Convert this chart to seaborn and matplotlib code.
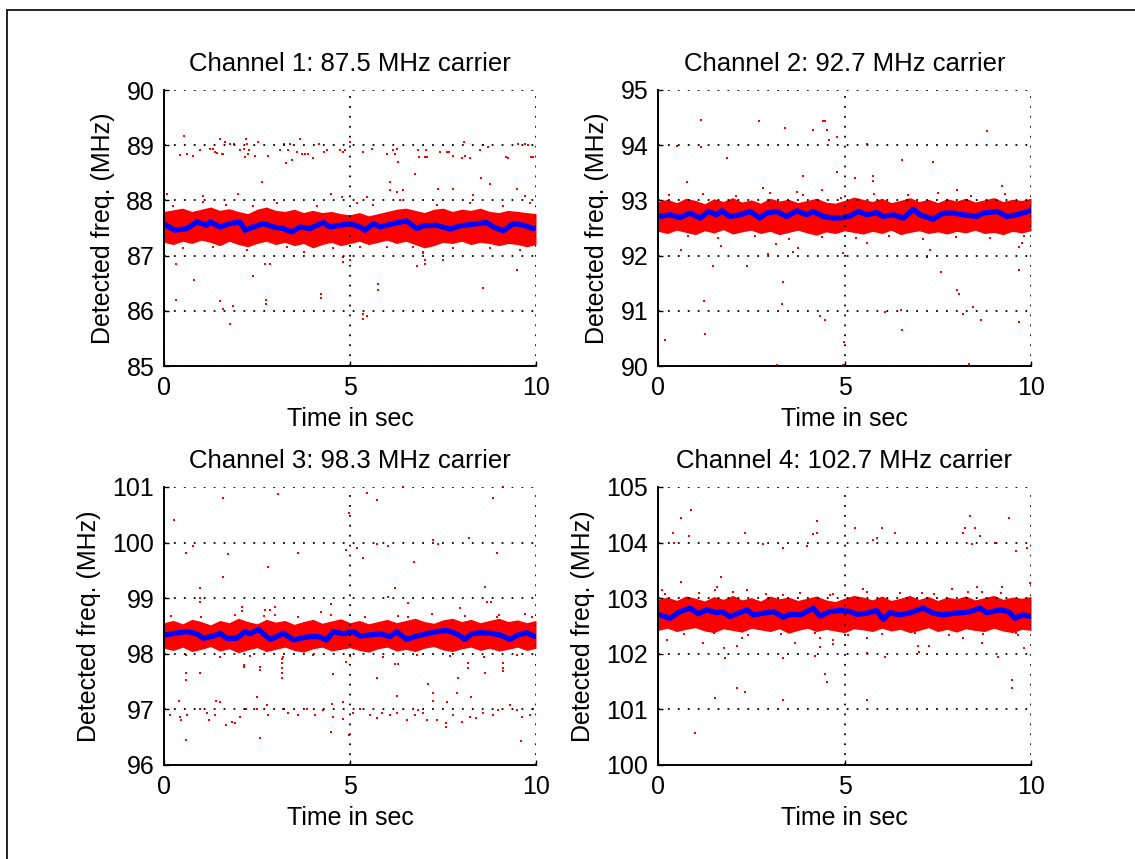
import matplotlib
matplotlib.use("Agg")
import matplotlib.pyplot as plt
import pandas as pd
import seaborn as sns

sns.set_style("white")
plt.rcParams.update({
    "font.family": ["Liberation Sans", "DejaVu Sans"],
    "font.size": 18,
    "text.color": "black",
    "axes.labelcolor": "black",
    "xtick.color": "black",
    "ytick.color": "black",
})

band_t = [0.0, 0.25, 0.5, 0.75, 1.0, 1.25, 1.5, 1.75, 2.0, 2.25, 2.5, 2.75, 3.0, 3.25,
          3.5, 3.75, 4.0, 4.25, 4.5, 4.75, 5.0, 5.25, 5.5, 5.75, 6.0, 6.25, 6.5, 6.75,
          7.0, 7.25, 7.5, 7.75, 8.0, 8.25, 8.5, 8.75, 9.0, 9.25, 9.5, 9.75, 10.0]

# ---- Channel 1: 87.5 MHz ----
ch1_band_hi = [87.80, 87.83, 87.86, 87.80, 87.84, 87.88, 87.82, 87.85, 87.80, 87.76, 87.84,
               87.88, 87.82, 87.80, 87.84, 87.78, 87.82, 87.78, 87.80, 87.76, 87.74, 87.78,
               87.72, 87.76, 87.80, 87.84, 87.86, 87.82, 87.78, 87.84, 87.86, 87.80, 87.84,
               87.82, 87.86, 87.80, 87.78, 87.82, 87.80, 87.78, 87.76]
ch1_band_lo = [87.24, 87.20, 87.26, 87.22, 87.28, 87.24, 87.18, 87.26, 87.20, 87.16, 87.22,
               87.26, 87.20, 87.24, 87.18, 87.22, 87.14, 87.20, 87.24, 87.18, 87.22, 87.26,
               87.20, 87.24, 87.28, 87.22, 87.26, 87.20, 87.14, 87.18, 87.24, 87.22, 87.26,
               87.20, 87.24, 87.22, 87.18, 87.22, 87.20, 87.16, 87.20]
ch1_line_t = [0.0, 0.3, 0.61, 0.88, 1.15, 1.24, 1.51, 1.77, 2.04, 2.18, 2.40, 2.67, 2.94,
              3.21, 3.43, 3.66, 3.92, 4.28, 4.46, 4.73, 5.00, 5.27, 5.40, 5.63, 5.81, 6.16,
              6.52, 6.79, 6.97, 7.33, 7.69, 7.96, 8.32, 8.67, 8.85, 9.12, 9.39, 9.66, 9.93]
ch1_line_f = [87.57, 87.46, 87.49, 87.61, 87.55, 87.61, 87.52, 87.58, 87.61, 87.46, 87.52,
              87.58, 87.52, 87.49, 87.43, 87.52, 87.49, 87.60, 87.52, 87.55, 87.58, 87.52,
              87.46, 87.58, 87.52, 87.58, 87.63, 87.49, 87.54, 87.55, 87.48, 87.54, 87.57,
              87.60, 87.52, 87.45, 87.58, 87.55, 87.49]
ch1_pts_t = [0.54, 0.61, 0.43, 0.77, 0.97, 1.24, 1.33, 1.37, 1.42, 1.51, 1.55, 1.59, 1.64,
             1.77, 1.88, 2.04, 2.15, 2.20, 2.24, 2.18, 2.27, 2.29, 2.45, 2.54, 2.80, 3.12,
             3.23, 3.28, 3.34, 3.39, 3.43, 3.57, 3.66, 3.70, 3.79, 3.88, 4.00, 4.18, 4.30,
             4.37, 4.73, 4.80, 4.87, 5.00, 5.36, 5.58, 5.99, 6.16, 6.21, 6.25, 6.30, 6.84,
             6.86, 7.03, 7.02, 7.06, 7.42, 7.60, 7.67, 7.76, 8.06, 8.00, 8.09, 8.23, 8.49,
             8.57, 8.72, 9.19, 9.26, 9.52, 9.70, 9.79, 9.86, 9.91,
             2.63, 6.08, 6.08, 6.25, 6.42, 6.75, 7.37, 7.76, 8.30, 8.51, 8.75, 9.48, 9.70,
             4.48, 4.78, 5.45, 1.99, 1.06, 0.09, 5.18,
             0.32, 0.81, 0.32, 1.51, 1.58, 1.85, 1.77, 2.38, 2.72, 2.85, 2.74, 2.74, 4.21,
             4.21, 4.80, 4.80, 5.00, 5.36, 5.45, 5.34, 5.76, 5.76, 6.79, 7.02, 7.02, 7.49,
             8.57, 9.48, 6.97,
             0.25, 0.52, 1.06, 1.33, 1.68, 2.22, 2.40, 3.03, 3.30, 3.75, 4.10, 4.55, 5.27,
             5.63, 5.99, 6.34, 6.70, 6.97, 7.33, 7.78, 8.23, 8.76, 9.12, 9.57, 9.84]
ch1_pts_f = [89.17, 88.84, 88.82, 88.80, 88.91, 88.93, 88.93, 88.88, 88.86, 89.12, 88.84,
             88.84, 89.05, 89.02, 89.02, 88.91, 88.93, 89.12, 89.02, 88.78, 88.84, 88.91,
             88.80, 89.06, 88.80, 88.91, 89.02, 88.67, 88.91, 89.02, 88.73, 88.87, 89.12,
             88.84, 88.84, 88.84, 88.77, 89.02, 88.88, 88.91, 88.91, 88.88, 88.91, 89.05,
             88.88, 88.94, 88.84, 88.91, 88.84, 88.93, 88.70, 88.91, 88.78, 88.91, 88.78,
             88.78, 88.88, 88.88, 88.88, 88.80, 89.06, 88.76, 88.80, 88.76, 88.91, 89.00,
             88.97, 88.78, 88.76, 89.02, 89.02, 89.00, 88.78, 88.78,
             88.34, 88.34, 88.19, 88.16, 88.19, 88.48, 88.20, 88.20, 88.10, 88.40, 88.30,
             88.20, 88.08, 88.12, 88.06, 88.06, 88.12, 88.08, 88.12, 87.95,
             86.85, 86.56, 86.20, 86.17, 86.04, 86.09, 85.76, 86.63, 86.85, 86.85, 86.20,
             86.12, 86.30, 86.23, 86.98, 86.89, 86.92, 85.94, 85.91, 85.85, 86.49, 86.38,
             86.81, 86.92, 86.85, 86.92, 86.41, 86.74, 87.04,
             87.89, 87.13, 87.98, 87.16, 87.92, 87.10, 87.89, 87.95, 87.16, 87.07, 87.89,
             87.13, 87.16, 87.92, 87.16, 88.01, 87.16, 87.07, 87.92, 87.13, 87.95, 87.13,
             87.89, 87.10, 87.95]

# ---- Channel 2: 92.7 MHz ----
ch2_band_hi = [92.98, 93.02, 92.96, 93.04, 93.00, 92.94, 93.03, 92.98, 93.05, 92.97, 93.01,
               92.95, 93.04, 92.99, 93.02, 92.96, 93.00, 93.04, 92.97, 92.95, 93.00, 93.06,
               93.02, 92.98, 93.04, 92.96, 93.00, 93.05, 92.98, 93.02, 92.96, 93.03, 92.99,
               93.04, 92.97, 93.01, 93.05, 92.98, 93.02, 93.00, 93.04]
ch2_band_lo = [92.44, 92.40, 92.46, 92.42, 92.38, 92.45, 92.41, 92.47, 92.39, 92.43, 92.46,
               92.40, 92.44, 92.38, 92.42, 92.46, 92.41, 92.37, 92.43, 92.40, 92.45, 92.42,
               92.39, 92.44, 92.40, 92.46, 92.38, 92.42, 92.45, 92.40, 92.43, 92.39, 92.44,
               92.41, 92.46, 92.40, 92.42, 92.38, 92.44, 92.41, 92.45]
ch2_line_t = [0.05, 0.32, 0.59, 0.86, 1.13, 1.35, 1.57, 1.71, 1.93, 2.20, 2.47, 2.73, 2.91,
              3.18, 3.45, 3.72, 3.99, 4.16, 4.43, 4.70, 4.97, 5.15, 5.37, 5.59, 5.86, 6.04,
              6.31, 6.58, 6.85, 7.02, 7.38, 7.65, 7.92, 8.19, 8.54, 8.72, 9.08, 9.35, 9.62,
              9.97]
ch2_line_f = [92.71, 92.74, 92.69, 92.77, 92.68, 92.80, 92.74, 92.81, 92.71, 92.74, 92.80,
              92.68, 92.77, 92.80, 92.71, 92.81, 92.74, 92.80, 92.71, 92.68, 92.69, 92.72,
              92.80, 92.74, 92.78, 92.71, 92.74, 92.68, 92.84, 92.74, 92.66, 92.77, 92.77,
              92.74, 92.71, 92.77, 92.80, 92.71, 92.74, 92.81]
ch2_pts_t = [1.14, 2.72, 3.40, 4.16, 4.43, 4.48, 4.52, 4.59, 4.81, 0.50, 1.14, 5.61, 8.83,
             1.86, 6.53, 7.38, 4.81, 3.90, 0.79, 2.82, 5.28, 5.76, 5.76, 9.21, 4.39, 8.01,
             3.72,
             0.61, 1.48, 2.38, 3.36, 3.32, 1.22, 1.26, 0.19, 4.33, 4.48, 4.99, 3.18, 4.95,
             6.09, 6.51, 6.53, 7.60, 8.02, 8.08, 8.19, 8.45, 8.66, 8.35, 9.69, 9.69, 9.75,
             9.69, 5.59, 7.29, 7.20, 2.96, 3.61, 3.76, 3.16, 1.68, 4.95,
             0.3, 0.8, 1.2, 1.6, 2.1, 2.6, 3.0, 3.5, 3.9, 4.4, 4.9, 5.3, 5.8, 6.2, 6.7,
             7.1, 7.5, 8.0, 8.4, 8.9, 9.3, 9.8]
ch2_pts_f = [94.46, 94.43, 94.32, 94.28, 94.43, 94.43, 94.28, 94.09, 94.14, 93.99, 93.96,
             94.03, 94.25, 93.77, 93.73, 93.70, 93.52, 93.44, 93.34, 93.22, 93.40, 93.44,
             93.36, 93.26, 93.19, 93.19, 93.16,
             92.10, 91.81, 91.81, 91.53, 91.12, 91.17, 90.58, 90.47, 90.91, 90.83, 90.44,
             90.02, 90.02, 90.98, 91.01, 90.65, 91.70, 91.38, 91.30, 90.94, 91.07, 90.83,
             90.04, 91.74, 90.79, 92.22, 92.16, 92.23, 92.10, 91.97, 92.03, 92.07, 92.13,
             92.21, 92.17, 92.05,
             93.10, 92.35, 93.12, 92.32, 93.08, 92.36, 93.14, 92.30, 93.10, 92.34, 93.05,
             92.32, 93.12, 92.36, 93.10, 92.30, 93.14, 92.34, 93.08, 92.32, 93.12, 92.36]

# ---- Channel 3: 98.3 MHz ----
ch3_band_hi = [98.56, 98.60, 98.54, 98.62, 98.58, 98.52, 98.60, 98.56, 98.64, 98.58, 98.54,
               98.62, 98.57, 98.60, 98.53, 98.58, 98.62, 98.55, 98.59, 98.63, 98.56, 98.60,
               98.54, 98.58, 98.62, 98.56, 98.60, 98.64, 98.58, 98.55, 98.61, 98.64, 98.58,
               98.62, 98.56, 98.60, 98.64, 98.58, 98.61, 98.56, 98.60]
ch3_band_lo = [98.10, 98.06, 98.12, 98.04, 98.08, 98.13, 98.05, 98.09, 98.02, 98.07, 98.11,
               98.04, 98.08, 98.12, 98.06, 98.03, 98.09, 98.12, 98.05, 98.08, 98.11, 98.06,
               98.03, 98.09, 98.12, 98.05, 98.08, 98.04, 98.10, 98.13, 98.07, 98.04, 98.09,
               98.12, 98.06, 98.10, 98.05, 98.08, 98.12, 98.06, 98.10]
ch3_line_t = [0.03, 0.30, 0.61, 0.88, 1.06, 1.33, 1.51, 1.68, 1.95, 2.18, 2.31, 2.54, 2.67,
              2.85, 3.03, 3.21, 3.48, 3.66, 3.92, 4.15, 4.37, 4.55, 4.82, 5.09, 5.27, 5.54,
              5.81, 6.08, 6.25, 6.52, 6.79, 7.06, 7.33, 7.60, 7.87, 8.09, 8.27, 8.49, 8.76,
              9.03, 9.30, 9.52, 9.75, 9.97]
ch3_line_f = [98.34, 98.37, 98.40, 98.36, 98.28, 98.32, 98.37, 98.28, 98.28, 98.40, 98.36,
              98.44, 98.36, 98.26, 98.31, 98.37, 98.25, 98.28, 98.31, 98.31, 98.25, 98.40,
              98.36, 98.40, 98.32, 98.34, 98.36, 98.31, 98.40, 98.26, 98.32, 98.36, 98.40,
              98.42, 98.36, 98.26, 98.36, 98.38, 98.37, 98.34, 98.26, 98.34, 98.38, 98.31]
ch3_pts_t = [1.58, 3.07, 0.27, 5.45, 5.72, 6.42, 8.84, 9.10, 4.96, 0.59, 0.77, 1.73, 1.58,
             2.80, 3.61, 4.89, 5.18, 5.34, 5.72, 6.03, 6.71, 7.22, 7.37, 8.19, 8.94, 0.97,
             0.97, 0.97, 2.11, 2.11, 2.71, 2.85, 2.98, 2.98, 4.48, 4.21, 6.21, 6.03, 6.57,
             6.57, 7.97, 8.63, 8.69, 8.78, 8.94, 9.70,
             0.59, 0.59, 0.97, 2.15, 2.15, 2.58, 2.58, 3.18, 3.18, 3.18, 3.18, 3.18, 4.55,
             5.72, 6.21, 6.30, 7.11, 7.22, 7.22, 7.91, 8.18, 8.18, 8.24, 8.63, 9.10, 9.10,
             9.10, 7.87, 7.62, 6.27, 4.80, 4.51, 2.49, 1.40, 0.39, 4.89,
             0.16, 0.43, 0.47, 0.61, 0.97, 1.15, 1.22, 1.37, 1.51, 1.67, 1.83, 1.90, 2.04,
             2.20, 2.49, 2.58, 2.76, 2.80, 3.21, 3.34, 3.61, 3.84, 4.06, 4.28, 4.48, 4.55,
             4.82, 4.96, 5.09, 5.27, 5.54, 5.72, 5.85, 6.08, 6.26, 6.52, 6.75, 6.84, 6.97,
             7.06, 7.33, 7.58, 7.58, 7.78, 8.00, 8.23, 8.39, 8.58, 8.85, 8.99, 9.30, 9.48,
             9.62, 9.59, 9.84, 9.93, 0.59,
             0.2, 0.6, 1.0, 1.5, 1.9, 2.3, 2.7, 3.2, 3.6, 4.0, 4.5, 5.0, 5.4, 5.9, 6.3,
             6.8, 7.2, 7.7, 8.1, 8.6, 9.0, 9.5, 9.9]
ch3_pts_f = [100.80, 100.87, 100.41, 100.90, 100.77, 101.00, 100.80, 101.00, 100.54, 99.82,
             99.94, 99.79, 99.39, 99.57, 99.82, 99.87, 99.90, 99.72, 99.97, 99.94, 99.65,
             100.05, 99.97, 100.08, 99.82, 99.18, 99.00, 98.93, 98.85, 98.77, 98.78, 98.78,
             98.84, 98.70, 98.90, 98.75, 99.18, 99.03, 98.92, 98.67, 98.82, 99.21, 98.93,
             98.93, 98.67, 98.72,
             97.66, 97.52, 97.66, 97.80, 97.77, 97.77, 97.70, 97.90, 97.83, 97.74, 97.65,
             97.56, 97.63, 97.56, 97.82, 97.82, 97.46, 97.30, 97.16, 97.56, 97.84, 97.74,
             97.23, 97.66, 97.84, 97.74, 97.69, 97.30, 97.14, 97.25, 97.14, 97.10, 97.23,
             97.16, 97.16, 97.86,
             96.90, 96.87, 96.81, 96.90, 97.00, 96.93, 96.81, 96.90, 97.14, 96.72, 96.78,
             96.76, 96.87, 97.00, 97.00, 96.48, 97.08, 96.90, 97.00, 96.93, 96.90, 97.00,
             96.90, 96.99, 96.59, 96.86, 96.82, 96.54, 96.93, 97.00, 96.90, 96.84, 96.93,
             96.90, 96.93, 96.81, 96.90, 96.99, 96.93, 96.81, 96.81, 96.69, 96.76, 96.90,
             96.78, 96.86, 96.84, 96.93, 96.90, 96.99, 97.08, 96.99, 96.87, 96.44, 96.90,
             97.00, 96.45,
             98.68, 97.98, 98.66, 97.95, 98.70, 97.96, 98.68, 97.94, 98.66, 97.98, 98.70,
             97.96, 98.66, 97.95, 98.68, 97.98, 98.72, 97.96, 98.68, 97.94, 98.70, 97.98,
             98.66]

# ---- Channel 4: 102.7 MHz ----
ch4_band_hi = [102.98, 103.02, 102.96, 103.04, 103.00, 102.95, 103.03, 102.98, 103.05,
               102.97, 103.01, 102.95, 103.04, 102.99, 103.02, 102.96, 103.00, 103.04,
               102.97, 102.94, 103.00, 103.05, 103.02, 102.97, 103.04, 102.96, 103.00,
               103.05, 102.98, 103.03, 102.96, 103.02, 102.99, 103.04, 102.97, 103.01,
               103.05, 102.98, 103.02, 103.00, 103.03]
ch4_band_lo = [102.42, 102.46, 102.40, 102.44, 102.47, 102.41, 102.38, 102.45, 102.42,
               102.39, 102.46, 102.43, 102.40, 102.45, 102.37, 102.42, 102.46, 102.40,
               102.44, 102.41, 102.38, 102.45, 102.43, 102.40, 102.46, 102.41, 102.44,
               102.38, 102.42, 102.47, 102.40, 102.44, 102.39, 102.45, 102.42, 102.40,
               102.46, 102.41, 102.38, 102.44, 102.42]
ch4_line_t = [0.04, 0.32, 0.59, 0.86, 1.08, 1.30, 1.57, 1.71, 1.93, 2.15, 2.38, 2.56, 2.82,
              3.09, 3.36, 3.54, 3.81, 3.99, 4.16, 4.34, 4.61, 4.88, 5.15, 5.33, 5.59, 5.86,
              6.04, 6.22, 6.49, 6.76, 6.93, 7.11, 7.38, 7.65, 7.92, 8.19, 8.36, 8.63, 8.81,
              9.17, 9.39, 9.57, 9.79, 10.0]
ch4_line_f = [102.70, 102.64, 102.76, 102.82, 102.72, 102.79, 102.74, 102.76, 102.67,
              102.73, 102.79, 102.70, 102.73, 102.76, 102.66, 102.71, 102.70, 102.76,
              102.82, 102.68, 102.76, 102.78, 102.76, 102.71, 102.73, 102.78, 102.62,
              102.74, 102.70, 102.74, 102.78, 102.82, 102.73, 102.70, 102.73, 102.74,
              102.76, 102.82, 102.74, 102.79, 102.76, 102.64, 102.70, 102.67]
ch4_pts_t = [0.88, 0.61, 0.39, 0.43, 0.84, 2.33, 2.82, 3.36, 3.99, 4.16, 4.25, 4.27, 5.28,
             5.76, 5.88, 6.00, 6.35, 8.19, 8.23, 8.37, 8.41, 8.50, 8.62, 9.03, 9.42, 9.60,
             9.90,
             0.61, 1.68, 1.57, 1.53, 0.10, 2.38, 5.50, 7.07, 7.87, 8.56, 8.68, 9.21, 9.98,
             3.36, 4.61,
             0.25, 1.20, 1.77, 1.80, 2.13, 2.24, 3.36, 3.67, 4.21, 4.33, 4.35, 4.48, 4.54,
             4.68, 4.68, 5.61, 5.61, 6.09, 6.98, 7.01, 7.27, 8.19, 8.68, 9.12, 9.48, 9.48,
             9.81, 9.66, 2.13, 2.33, 1.53, 3.36, 5.61, 0.99,
             0.2, 0.7, 1.1, 1.5, 2.0, 2.4, 2.9, 3.3, 3.8, 4.2, 4.7, 5.1, 5.6, 6.0, 6.5,
             6.9, 7.4, 7.8, 8.3, 8.7, 9.2, 9.6]
ch4_pts_f = [104.59, 104.44, 104.18, 104.00, 104.11, 104.18, 103.97, 103.90, 103.93,
             104.15, 104.18, 104.39, 104.26, 104.05, 104.08, 104.26, 104.18, 104.18,
             104.26, 104.48, 103.97, 104.26, 104.11, 104.00, 104.44, 103.85, 103.90,
             103.29, 103.39, 103.21, 103.15, 103.15, 103.15, 103.16, 103.10, 103.17,
             103.21, 103.12, 103.21, 103.27, 103.06, 103.06,
             102.25, 102.20, 102.10, 101.92, 102.14, 102.28, 101.92, 102.20, 101.96,
             102.13, 102.28, 101.64, 101.49, 102.25, 102.18, 102.28, 102.01, 101.95,
             102.14, 102.03, 102.14, 102.28, 102.20, 101.95, 101.53, 101.38, 102.10,
             102.34, 101.38, 101.31, 101.20, 101.17, 101.17, 100.58,
             103.08, 102.36, 103.10, 102.38, 103.12, 102.34, 103.08, 102.36, 103.10,
             102.38, 103.08, 102.34, 103.12, 102.36, 103.10, 102.38, 103.08, 102.34,
             103.12, 102.36, 103.10, 102.38]

titles = ["Channel 1: 87.5 MHz carrier", "Channel 2: 92.7 MHz carrier",
          "Channel 3: 98.3 MHz carrier", "Channel 4: 102.7 MHz carrier"]
ylims = [(85, 90), (90, 95), (96, 101), (100, 105)]

channels = [
    (ch1_band_hi, ch1_band_lo, ch1_line_t, ch1_line_f, ch1_pts_t, ch1_pts_f),
    (ch2_band_hi, ch2_band_lo, ch2_line_t, ch2_line_f, ch2_pts_t, ch2_pts_f),
    (ch3_band_hi, ch3_band_lo, ch3_line_t, ch3_line_f, ch3_pts_t, ch3_pts_f),
    (ch4_band_hi, ch4_band_lo, ch4_line_t, ch4_line_f, ch4_pts_t, ch4_pts_f),
]

W, H = 1135, 859
fig = plt.figure(figsize=(W / 100, H / 100), dpi=100)

# axes boxes in pixels: left, top, right, bottom
boxes = [(164, 90, 536, 366), (658, 90, 1031, 366),
         (164, 487, 536, 765), (658, 487, 1031, 765)]

for i, (hi, lo, lt, lf, pt, pf) in enumerate(channels):
    l, t, r, b = boxes[i]
    ax = fig.add_axes([l / W, 1 - b / H, (r - l) / W, (b - t) / H])

    ax.fill_between(band_t, lo, hi, color="#ff0000", linewidth=0, zorder=1)
    pts = pd.DataFrame({"t": pt, "f": pf})
    sns.scatterplot(data=pts, x="t", y="f", ax=ax, color="#ff0000", marker="s",
                    s=3.5, linewidth=0, zorder=1, clip_on=False)
    line = pd.DataFrame({"t": lt, "f": lf})
    sns.lineplot(data=line, x="t", y="f", ax=ax, color="#0000ff", linewidth=3.8,
                 estimator=None, sort=False, zorder=2)

    ax.set_xlim(0, 10)
    ax.set_ylim(*ylims[i])
    ax.set_xticks([0, 5, 10])
    ax.set_yticks(range(ylims[i][0], ylims[i][1] + 1))
    ax.set_title(titles[i], fontsize=18.5, pad=14, color="black")
    ax.set_xlabel("Time in sec", fontsize=18, labelpad=5)
    ax.set_ylabel("Detected freq. (MHz)", fontsize=18, labelpad=8)

    ax.grid(True, color="#000000", linestyle=(0, (1, 4.5)), linewidth=1.3)
    ax.set_axisbelow(False)
    for s in ["top", "right"]:
        ax.spines[s].set_visible(False)
    for s in ["left", "bottom"]:
        ax.spines[s].set_color("black")
        ax.spines[s].set_linewidth(1.4)
    ax.tick_params(direction="in", length=3.6, width=1, colors="black",
                   labelsize=18, pad=7, left=True, bottom=True)

# outer frame of the figure window
fig.add_artist(plt.Line2D([7 / W, 1], [1 - 10 / H, 1 - 10 / H],
                          transform=fig.transFigure, color="black", linewidth=1.2))
fig.add_artist(plt.Line2D([7 / W, 7 / W], [0, 1 - 10 / H],
                          transform=fig.transFigure, color="black", linewidth=1.2))

fig.savefig("out.png", dpi=100)
